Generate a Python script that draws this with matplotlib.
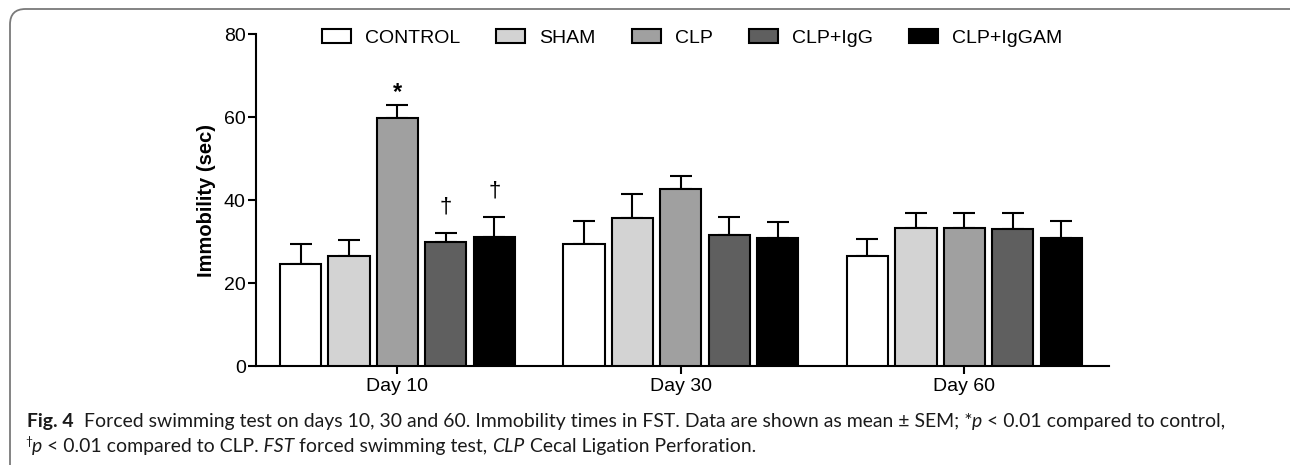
import numpy as np
import matplotlib.pyplot as plt
from matplotlib.patches import Patch, FancyBboxPatch

# data (mean and SEM, seconds)
days = ["Day 10", "Day 30", "Day 60"]
groups = ["CONTROL", "SHAM", "CLP", "CLP+IgG", "CLP+IgGAM"]
control = [24.7, 29.5, 26.6]
sham = [26.6, 35.6, 33.4]
clp = [59.8, 42.7, 33.2]
clp_igg = [29.9, 31.7, 33.0]
clp_iggam = [31.2, 30.9, 30.9]
control_sem = [4.7, 5.5, 4.0]
sham_sem = [3.9, 6.0, 3.4]
clp_sem = [3.2, 3.2, 3.6]
clp_igg_sem = [2.2, 4.3, 3.9]
clp_iggam_sem = [4.7, 3.9, 4.1]
# significance marks: (day index, group index, symbol)
marks = [(0, 2, "*"), (0, 3, "\u2020"), (0, 4, "\u2020")]

means = [control, sham, clp, clp_igg, clp_iggam]
sems = [control_sem, sham_sem, clp_sem, clp_igg_sem, clp_iggam_sem]
colors = ["white", "#d3d3d3", "#a0a0a0", "#5f5f5f", "black"]

W, H = 1290, 465
fig = plt.figure(figsize=(W / 100, H / 100), dpi=100)
plt.rcParams['font.family'] = ['Liberation Sans', 'DejaVu Sans']

# rounded frame, only the top and left edges fall inside the picture
frame = FancyBboxPatch((10 / W, -20 / H), 1310 / W, 476 / H,
                       boxstyle="round,pad=0,rounding_size=0.012",
                       transform=fig.transFigure, fill=False,
                       edgecolor="#7a7a7a", linewidth=1.3,
                       mutation_aspect=W / H)
fig.patches.append(frame)

ax = fig.add_axes([256 / W, 99 / H, 853 / W, 331.7 / H])

x = np.arange(len(days))
pitch = 0.171
width = 0.145
for i in range(len(groups)):
    pos = x + (i - 2) * pitch
    ax.bar(pos, means[i], width, color=colors[i], edgecolor="black",
           linewidth=1.5, zorder=3)
    ax.errorbar(pos, means[i], yerr=[np.zeros(len(days)), sems[i]], fmt="none",
                ecolor="black", elinewidth=1.5, capsize=8, capthick=1.5, zorder=2)

for d, g, s in marks:
    top = means[g][d] + sems[g][d]
    if s == "*":
        ax.text(d + (g - 2) * pitch, top + 3.0, s, ha="center", va="center",
                fontsize=17, fontweight="bold")
    else:
        ax.text(d + (g - 2) * pitch, top + 6.3, s, ha="center", va="center",
                fontsize=16)

ax.set_xlim(-0.499, 2.51)
ax.set_ylim(0, 80)
ax.set_yticks([0, 20, 40, 60, 80])
ax.set_xticks(x)
ax.set_xticklabels(days)
ax.tick_params(labelsize=14, width=1.5, length=5.8, pad=1.5)
ax.tick_params(axis="x", pad=3)
for side in ["top", "right"]:
    ax.spines[side].set_visible(False)
for side in ["left", "bottom"]:
    ax.spines[side].set_linewidth(1.5)
ax.set_ylabel("Immobility (sec)", fontsize=14.5, fontweight="bold", labelpad=6)

handles = [Patch(facecolor=c, edgecolor="black", linewidth=1.5) for c in colors]
fig.legend(handles, groups, loc="center left", bbox_to_anchor=(321.7 / W, (H - 38) / H),
           ncol=5, frameon=False, fontsize=14, handlelength=1.5, handleheight=0.75,
           handletextpad=0.72, columnspacing=1.85, borderpad=0, borderaxespad=0)

# caption
renderer = fig.canvas.get_renderer()
cap_font = ["Lato", "DejaVu Sans"]


def seg_width(s, size, **kw):
    t1 = fig.text(0, 0, "|" + s + "|", fontsize=size, family=cap_font, **kw)
    t2 = fig.text(0, 0, "||", fontsize=size, family=cap_font, **kw)
    w = t1.get_window_extent(renderer).width - t2.get_window_extent(renderer).width
    t1.remove()
    t2.remove()
    return w


line1 = [("Fig. 4", {"weight": "bold"}),
         ("  Forced swimming test on days 10, 30 and 60. Immobility times in FST. "
          "Data are shown as mean \u00b1 SEM; *", {}),
         ("p", {"style": "italic"}),
         (" < 0.01 compared to control,", {})]
line2 = [("\u2020", {"sup": True}),
         ("p", {"style": "italic"}),
         (" < 0.01 compared to CLP.", {}),
         (" FST", {"style": "italic"}),
         (" forced swimming test, ", {}),
         ("CLP", {"style": "italic"}),
         (" Cecal Ligation Perforation.", {})]


def kw_of(opts):
    return {k: v for k, v in opts.items() if k != "sup"}


w10 = sum(seg_width(s, 10, **kw_of(o)) for s, o in line1)
size = 10 * (1218 - 27) / w10


def draw_line(segs, x0, base):
    xp = x0
    for s, o in segs:
        fs = size * 0.62 if o.get("sup") else size
        yb = base - (7 if o.get("sup") else 0)
        fig.text(xp / W, (H - yb) / H, s, fontsize=fs, family=cap_font,
                 va="baseline", ha="left", color="#1a1a1a", **kw_of(o))
        xp += seg_width(s, fs, **kw_of(o))


draw_line(line1, 27, 427)
draw_line(line2, 25, 451.5)

fig.savefig("out.png", dpi=100)
